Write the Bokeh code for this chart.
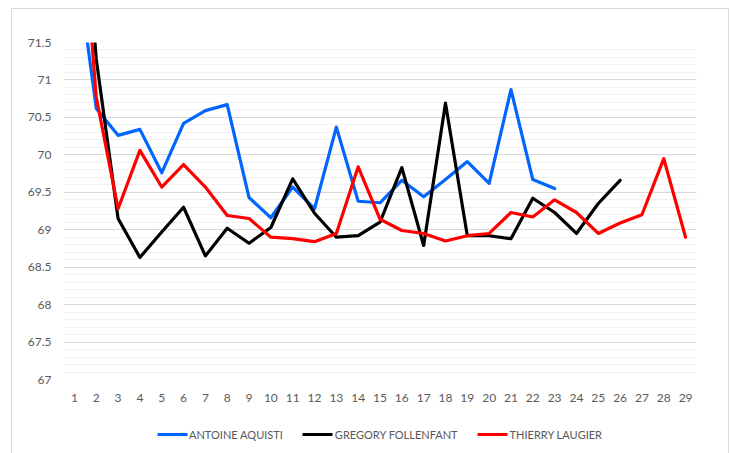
from bokeh.plotting import figure
from bokeh.models import (FactorRange, Range1d, FixedTicker, Legend, LegendItem,
                          ColumnDataSource)
from bokeh.layouts import column
from bokeh.embed import file_html
from bokeh.resources import INLINE

categories = [str(i) for i in range(1, 30)]

antoine = [72.8, 70.62, 70.26, 70.34, 69.76, 70.42, 70.59, 70.67, 69.43, 69.16,
           69.57, 69.28, 70.37, 69.38, 69.36, 69.66, 69.44, 69.67, 69.91, 69.62,
           70.87, 69.67, 69.55]
gregory = [75.0, 71.28, 69.15, 68.63, 68.97, 69.30, 68.65, 69.02, 68.82, 69.03,
           69.68, 69.22, 68.90, 68.92, 69.10, 69.83, 68.79, 70.69, 68.92, 68.92,
           68.88, 69.42, 69.23, 68.95, 69.35, 69.66]
thierry = [74.5, 70.77, 69.28, 70.06, 69.57, 69.87, 69.57, 69.19, 69.15, 68.90,
           68.88, 68.84, 68.95, 69.84, 69.14, 68.99, 68.95, 68.85, 68.92, 68.95,
           69.23, 69.17, 69.40, 69.23, 68.95, 69.09, 69.20, 69.95, 68.90]

series_names = ["ANTOINE AQUISTI", "GREGORY FOLLENFANT", "THIERRY LAUGIER"]
series_values = [antoine, gregory, thierry]
series_colors = ["#0066ff", "#000000", "#ff0000"]

y_major = [67 + 0.5 * i for i in range(10)]
y_minor = [round(67 + 0.1 * i, 1) for i in range(46)]

FONT = "Lato"
TXT = "#595959"

# ---- main chart ----
p = figure(x_range=FactorRange(*categories, range_padding=0),
           y_range=Range1d(67, 71.5),
           width=716, height=401,
           min_border_left=51, min_border_right=32,
           min_border_top=33, min_border_bottom=31,
           output_backend="svg", toolbar_location=None,
           background_fill_color="white", border_fill_color="white")
p.outline_line_color = None

for name, vals, col in zip(series_names, series_values, series_colors):
    src = ColumnDataSource(dict(x=categories[:len(vals)], y=vals))
    p.line("x", "y", source=src, line_color=col, line_width=3.2,
           line_join="round", line_cap="round")

p.yaxis.ticker = FixedTicker(ticks=y_major, minor_ticks=y_minor)
p.yaxis.axis_line_color = None
p.yaxis.major_tick_line_color = None
p.yaxis.minor_tick_line_color = None
p.yaxis.major_label_text_color = TXT
p.yaxis.major_label_text_font = FONT
p.yaxis.major_label_text_font_size = "12px"
p.yaxis.major_label_standoff = 6

p.xaxis.axis_line_color = None
p.xaxis.major_tick_line_color = None
p.xaxis.minor_tick_line_color = None
p.xaxis.major_label_text_color = TXT
p.xaxis.major_label_text_font = FONT
p.xaxis.major_label_text_font_size = "12px"
p.xaxis.major_label_standoff = 8

p.xgrid.grid_line_color = None
p.ygrid.grid_line_color = "#d9d9d9"
p.ygrid.grid_line_width = 1
p.ygrid.minor_grid_line_color = "#f0f0f0"
p.ygrid.minor_grid_line_width = 1

# ---- legend strip (series drawn out of view, only legend shows) ----
lg = figure(width=716, height=48,
            x_range=FactorRange(*categories, range_padding=0),
            y_range=Range1d(0, 1),
            min_border=0, output_backend="svg", toolbar_location=None,
            background_fill_color="white", border_fill_color="white")
lg.outline_line_color = None
lg.axis.visible = False
lg.grid.visible = False
items = []
for name, vals, col in zip(series_names, series_values, series_colors):
    src = ColumnDataSource(dict(x=categories[:len(vals)], y=vals))
    r = lg.line("x", "y", source=src, line_color=col, line_width=3.2,
                line_cap="round")
    items.append(LegendItem(label=name, renderers=[r]))
legend = Legend(items=items, orientation="horizontal", location="center",
                label_text_font=FONT, label_text_font_size="11px",
                label_text_color=TXT, glyph_width=30, glyph_height=14,
                label_standoff=2, spacing=20, padding=2, margin=0,
                border_line_color=None, background_fill_alpha=0)
lg.add_layout(legend, "center")

layout = column(p, lg, spacing=0)
layout.margin = (8, 0, 0, 11)
layout.styles = {"border": "1px solid #d9d9d9"}

open("out.html", "w").write(file_html(layout, INLINE))
